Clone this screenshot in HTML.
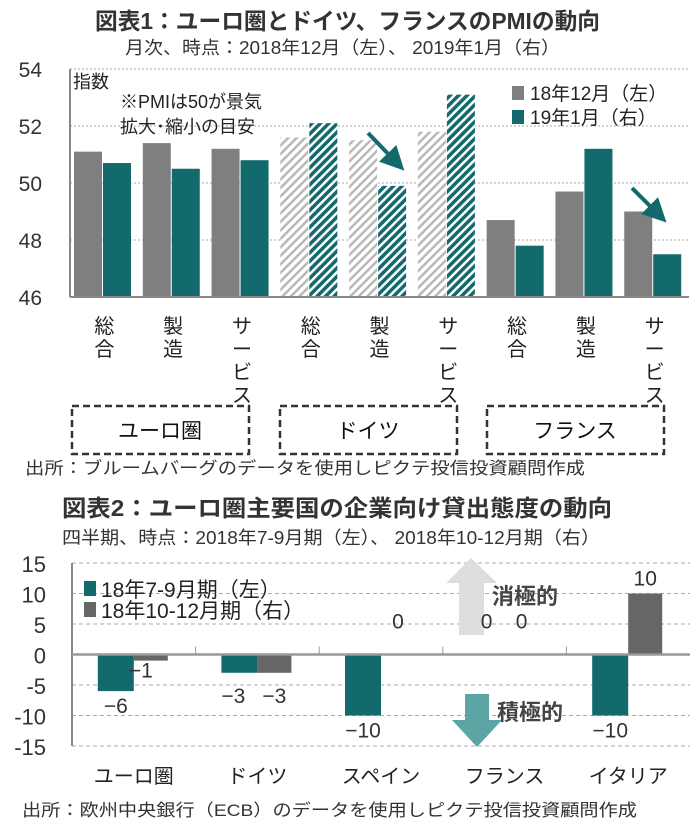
<!DOCTYPE html>
<html><head><meta charset="utf-8"><style>
body{margin:0;background:#fff}
svg{display:block;font-family:"Liberation Sans","Noto Sans CJK JP",sans-serif}
</style></head><body>
<svg width="700" height="823" viewBox="0 0 700 823">
<defs>
<pattern id="hg" width="6" height="6" patternUnits="userSpaceOnUse" patternTransform="rotate(45)"><rect width="6" height="6" fill="#fff"/><rect width="2.5" height="6" fill="#b8b8b8"/></pattern>
<pattern id="ht" width="6" height="6" patternUnits="userSpaceOnUse" patternTransform="rotate(45)"><rect width="6" height="6" fill="#fff"/><rect width="3.5" height="6" fill="#136a6c"/></pattern>
<marker id="ah" markerWidth="6" markerHeight="6" refX="3" refY="3" orient="auto"><path d="M0,0L6,3L0,6z" fill="#136a6c"/></marker>
</defs>
<text x="95" y="29" font-size="23" font-weight="bold" fill="#333" textLength="505" lengthAdjust="spacingAndGlyphs">図表1：ユーロ圏とドイツ、フランスのPMIの動向</text>
<text x="125" y="54" font-size="18" fill="#333" textLength="435" lengthAdjust="spacingAndGlyphs">月次、時点：2018年12月（左）、 2019年1月（右）</text>
<g id="c1"></g>
<text x="25" y="474" font-size="17" fill="#333" textLength="560" lengthAdjust="spacingAndGlyphs">出所：ブルームバーグのデータを使用しピクテ投信投資顧問作成</text>
<text x="62" y="516" font-size="23" font-weight="bold" fill="#333" textLength="550" lengthAdjust="spacingAndGlyphs">図表2：ユーロ圏主要国の企業向け貸出態度の動向</text>
<text x="62" y="544" font-size="18" fill="#333" textLength="538" lengthAdjust="spacingAndGlyphs">四半期、時点：2018年7-9月期（左）、 2018年10-12月期（右）</text>
<g id="c2"></g>
<text x="22" y="816" font-size="17" fill="#333" textLength="615" lengthAdjust="spacingAndGlyphs">出所：欧州中央銀行（ECB）のデータを使用しピクテ投信投資顧問作成</text>
</svg>
<script>
const NS="http://www.w3.org/2000/svg";
const c1Categories=["総合","製造","サービス","総合","製造","サービス","総合","製造","サービス"];
const c1Dec=[51.1,51.4,51.2,51.6,51.5,51.8,48.7,49.7,49.0];
const c1Jan=[50.7,50.5,50.8,52.1,49.9,53.1,47.8,51.2,47.5];
const c1Ticks=[46,48,50,52,54];
const c1Groups=["ユーロ圏","ドイツ","フランス"];
const c2Categories=["ユーロ圏","ドイツ","スペイン","フランス","イタリア"];
const c2Q3=[-6,-3,-10,0,-10];
const c2Q4=[-1,-3,0,0,10];
const c2Ticks=[15,10,5,0,-5,-10,-15];

function mk(p,tag,at,txt){const e=document.createElementNS(NS,tag);for(const k in at)e.setAttribute(k,at[k]);if(txt!=null)e.textContent=txt;p.appendChild(e);return e;}

// chart 1
const g1=document.getElementById('c1');
const L1=70,R1=689,T1=69,B1=297;
const y1=v=>B1-(v-46)/(54-46)*(B1-T1);
const pitch1=(R1-L1)/9;
c1Ticks.forEach(t=>{
 if(t>46){const l=mk(g1,'line',{x1:L1,x2:R1,y1:y1(t),y2:y1(t),stroke:'#aaa','stroke-dasharray':'2,2'});
 
 }
 const tx=mk(g1,'text',{x:42,y:y1(t)+8,'font-size':21,fill:'#333','text-anchor':'end'},t);
 
 
});
mk(g1,'line',{x1:L1,x2:L1,y1:T1,y2:B1,stroke:'#888','stroke-width':2});
c1Categories.forEach((c,i)=>{
 const x0=L1+i*pitch1+4;
 const hatch=i>=3&&i<6;
 const b1=mk(g1,'rect',{x:x0,y:y1(c1Dec[i]),width:28,height:B1-y1(c1Dec[i]),fill:hatch?'url(#hg)':'#7f7f7f'});
 
 
 const b2=mk(g1,'rect',{x:x0+29,y:y1(c1Jan[i]),width:28,height:B1-y1(c1Jan[i]),fill:hatch?'url(#ht)':'#136a6c'});
 
 
 const cx=L1+(i+0.5)*pitch1;
 [...c].forEach((ch,j)=>{const t=mk(g1,'text',{x:cx,y:333+j*23,'font-size':20,fill:'#222','text-anchor':'middle'},ch);
  
  });
});
mk(g1,'line',{x1:L1,x2:R1,y1:B1,y2:B1,stroke:'#888','stroke-width':2});
c1Groups.forEach((g,k)=>{
 const x=[72,280,487][k];
 const r=mk(g1,'rect',{x:x,y:406,width:177,height:48,fill:'none',stroke:'#333','stroke-width':2.5,'stroke-dasharray':'7,4'});
 
 
 const t=mk(g1,'text',{x:x+88,y:438,'font-size':21,fill:'#111','text-anchor':'middle'},g);
 
 
});
mk(g1,'text',{x:73,y:88,'font-size':18,fill:'#222'},'指数');
mk(g1,'text',{x:120,y:108,'font-size':18,fill:'#222'},'※PMIは50が景気');
mk(g1,'text',{x:120,y:133,'font-size':18,fill:'#222'},'拡大･縮小の目安');
mk(g1,'rect',{x:512,y:86,width:12,height:14,fill:'#7f7f7f'});
mk(g1,'text',{x:530,y:100,'font-size':19,fill:'#222'},'18年12月（左）');
mk(g1,'rect',{x:512,y:110,width:12,height:14,fill:'#136a6c'});
mk(g1,'text',{x:530,y:124,'font-size':19,fill:'#222'},'19年1月（右）');
mk(g1,'line',{x1:368,y1:133,x2:396,y2:162,stroke:'#136a6c','stroke-width':4,'marker-end':'url(#ah)'});
mk(g1,'line',{x1:632,y1:188,x2:658,y2:214,stroke:'#136a6c','stroke-width':4,'marker-end':'url(#ah)'});

// chart 2
const g2=document.getElementById('c2');
const L2=72,R2=690,T2=563,B2=746;
const y2=v=>T2+(15-v)/30*(B2-T2);
const pitch2=(R2-L2)/5;
c2Ticks.forEach(t=>{
 if(t!==0&&t!==-15){const l=mk(g2,'line',{x1:L2,x2:R2,y1:y2(t),y2:y2(t),stroke:'#aaa','stroke-dasharray':'4,3'});
 
 }
 const tx=mk(g2,'text',{x:46,y:y2(t)+9,'font-size':22,fill:'#333','text-anchor':'end'},t);
 
 
});
mk(g2,'line',{x1:L2,x2:R2,y1:y2(-15),y2:y2(-15),stroke:'#aaa','stroke-dasharray':'4,3'});
mk(g2,'line',{x1:L2,x2:L2,y1:T2,y2:B2,stroke:'#888','stroke-width':2});
mk(g2,'path',{d:'M471,558L497,583H484V635H459V583H446Z',fill:'#ddd'});
mk(g2,'path',{d:'M477,747L502,720H489V694H465V720H452Z',fill:'#5ba6a4'});
c2Categories.forEach((c,i)=>{
 const cx=L2+(i+0.5)*pitch2;
 const b1=mk(g2,'rect',{x:cx-36,y:Math.min(y2(0),y2(c2Q3[i])),width:36,height:Math.abs(y2(c2Q3[i])-y2(0)),fill:'#136a6c'});
 
 
 const b2=mk(g2,'rect',{x:cx,y:Math.min(y2(0),y2(c2Q4[i])),width:34,height:Math.abs(y2(c2Q4[i])-y2(0)),fill:'#666'});
 
 
 const v1=c2Q3[i],v2=c2Q4[i];
 const ly1=v1<0?y2(v1)+22:y2(v1)-8, ly2=v2<0?y2(v2)+22:y2(v2)-8;
 const t1=mk(g2,'text',{x:cx-18+(v1===-3?-6:0),y:ly1+(v1===-3?8:0)+(v1===0?-18:0),'font-size':21,fill:'#333','text-anchor':'middle'},v1<0?'−'+(-v1):v1);
 
 
 const t2=mk(g2,'text',{x:cx+17+(v2===-1?-10:0),y:ly2+(v2===-3?8:0)+(v2===-1?-5:0)+(v2===0?-18:0),'font-size':21,fill:'#333','text-anchor':'middle'},v2<0?'−'+(-v2):v2);
 
 
 const cl=mk(g2,'text',{x:cx,y:783,'font-size':20,fill:'#222','text-anchor':'middle'},c);
 
 
 if(i>0)mk(g2,'line',{x1:L2+i*pitch2,x2:L2+i*pitch2,y1:y2(0),y2:y2(0)-8,stroke:'#999'});
});
mk(g2,'line',{x1:L2,x2:R2,y1:y2(0),y2:y2(0),stroke:'#999','stroke-width':2.5});
mk(g2,'text',{x:492,y:604,'font-size':22,'font-weight':'bold',fill:'#444'},'消極的');
mk(g2,'text',{x:497,y:720,'font-size':22,'font-weight':'bold',fill:'#444'},'積極的');
mk(g2,'rect',{x:84,y:581,width:12,height:15,fill:'#136a6c'});
mk(g2,'text',{x:101,y:597,'font-size':21,fill:'#222'},'18年7-9月期（左）');
mk(g2,'rect',{x:84,y:602,width:12,height:15,fill:'#666'});
mk(g2,'text',{x:101,y:618,'font-size':21,fill:'#222'},'18年10-12月期（右）');
</script>
</body></html>
